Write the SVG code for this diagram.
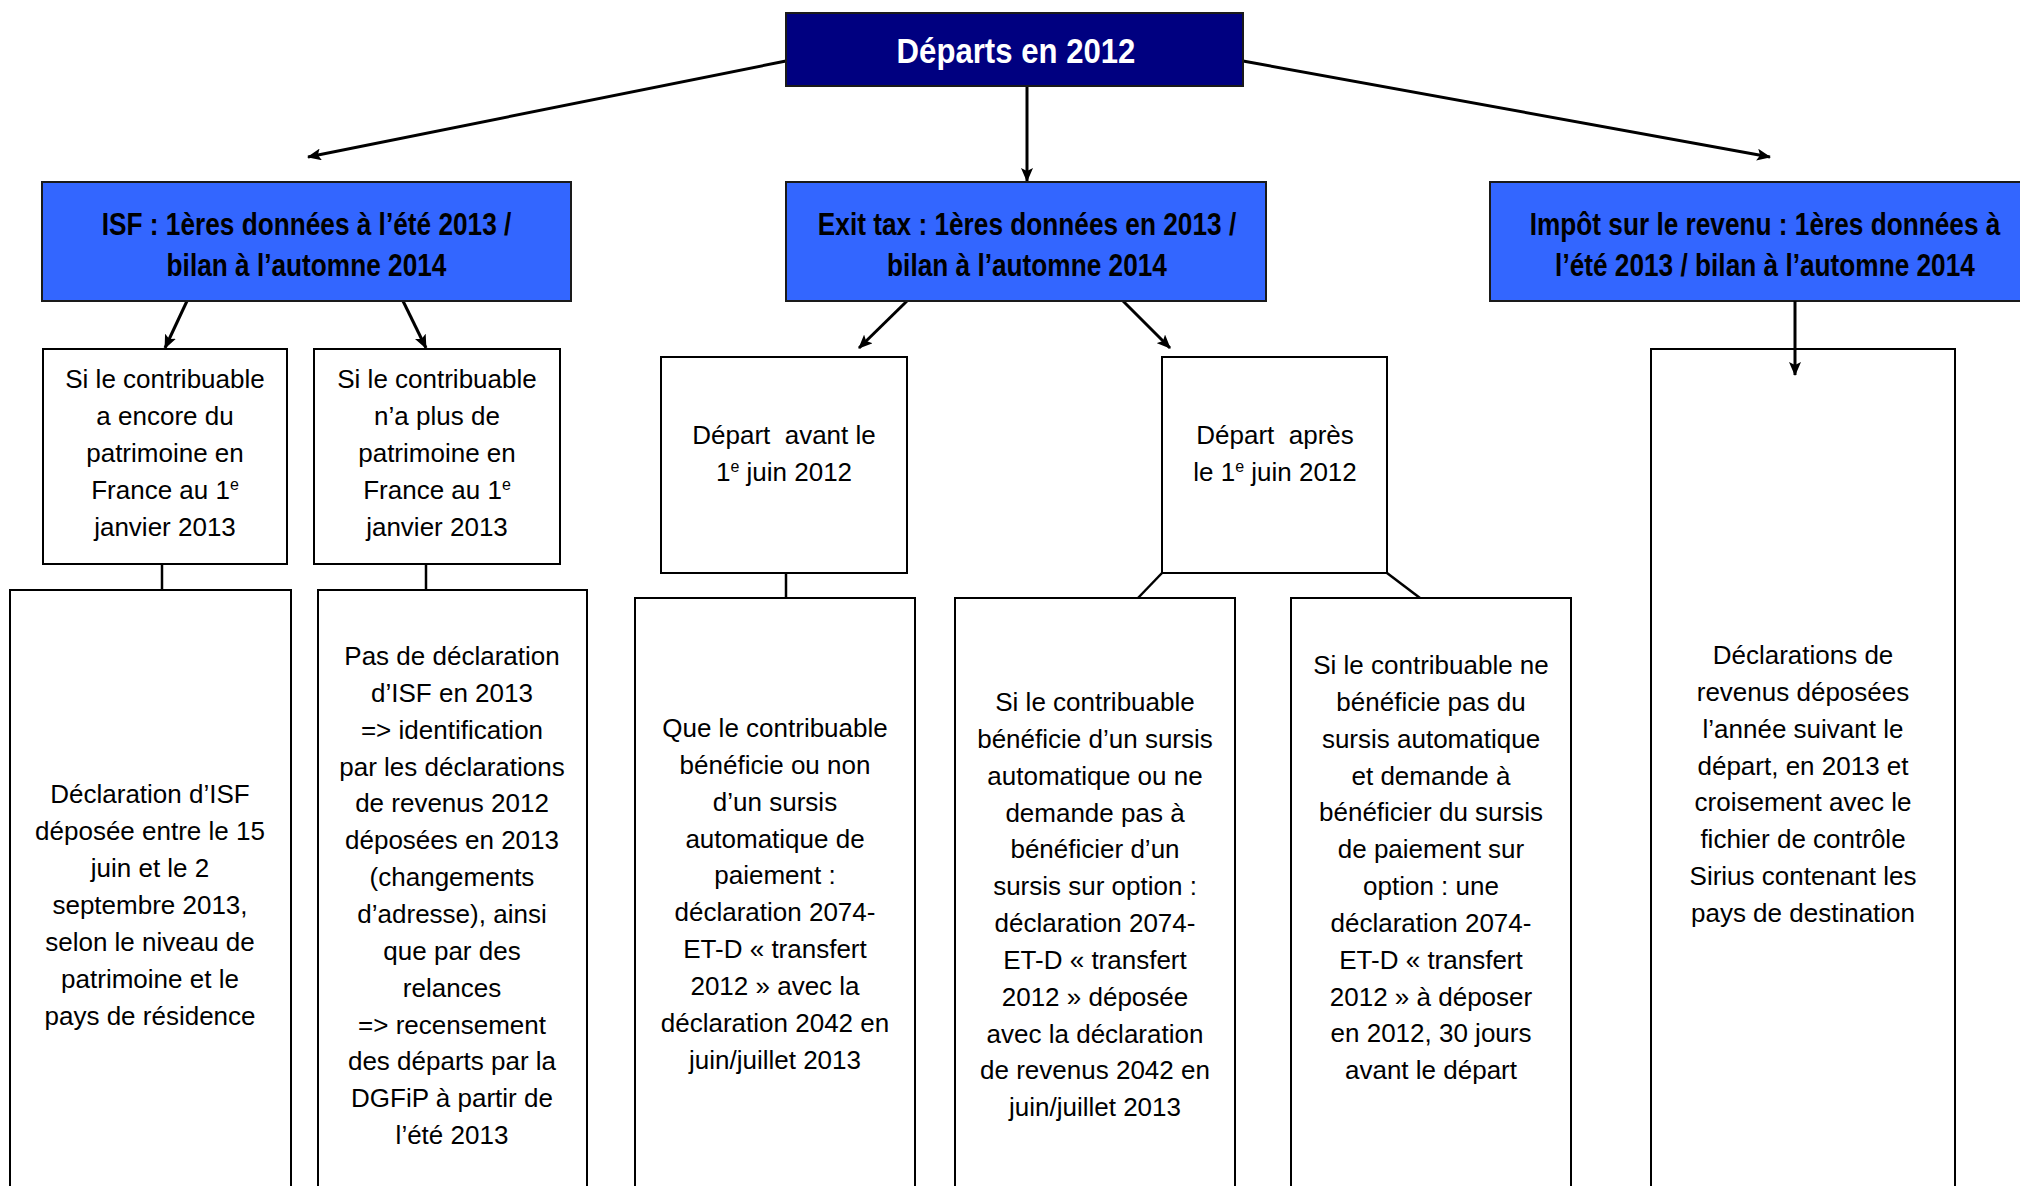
<svg xmlns="http://www.w3.org/2000/svg" width="2020" height="1186" viewBox="0 0 2020 1186">
<defs>
<style>
.t{font-family:"Liberation Sans",Arial,sans-serif;font-size:26px;fill:#000;text-anchor:middle}
.h{font-family:"Liberation Sans",Arial,sans-serif;font-weight:bold;font-size:30.5px;fill:#000;text-anchor:middle}
.ttl{font-family:"Liberation Sans",Arial,sans-serif;font-weight:bold;font-size:36px;fill:#fff;text-anchor:middle}
.box{fill:#fff;stroke:#000;stroke-width:2}
.blue{fill:#3366FF;stroke:#1a1a1a;stroke-width:2}
.navy{fill:#000080;stroke:#1a1a1a;stroke-width:2}
.con{stroke:#000;stroke-width:2.5;fill:none}
.arr{stroke:#000;stroke-width:3;fill:none;marker-end:url(#ah)}
.sup{font-size:16px}
.pre{white-space:pre}
</style>
<marker id="ah" markerUnits="userSpaceOnUse" viewBox="0 0 14 12" refX="13" refY="6" markerWidth="14" markerHeight="12" orient="auto">
<path d="M0,0 L14,6 L0,12 L3,6 z" fill="#000"/>
</marker>
</defs>

<g id="connectors">
<line class="arr" x1="786" y1="61" x2="308" y2="157"/>
<line class="arr" x1="1027" y1="86" x2="1027" y2="181"/>
<line class="arr" x1="1243" y1="61" x2="1770" y2="157"/>
<line class="arr" x1="187" y1="301" x2="165" y2="348"/>
<line class="arr" x1="403" y1="301" x2="426" y2="348"/>
<line class="arr" x1="907" y1="301" x2="859" y2="348"/>
<line class="arr" x1="1123" y1="301" x2="1170" y2="348"/>
<line class="con" x1="162" y1="564" x2="162" y2="590"/>
<line class="con" x1="426" y1="564" x2="426" y2="590"/>
<line class="con" x1="786" y1="573" x2="786" y2="598"/>
<line class="con" x1="1162" y1="573" x2="1138" y2="598"/>
<line class="con" x1="1387" y1="573" x2="1420" y2="598"/>
</g>

<g id="depart2012">
<rect class="navy" x="786" y="13" width="457" height="73"/>
<g transform="translate(1016,0) scale(0.865,1)"><text class="ttl" x="0" y="63">Départs en 2012</text></g>
</g>

<g id="isf">
<rect class="blue" x="42" y="182" width="529" height="119"/>
<g transform="translate(306.5,0) scale(0.86,1)">
<text class="h" x="0" y="235">ISF : 1ères données à l’été 2013 /</text>
<text class="h" x="0" y="276">bilan à l’automne 2014</text>
</g>
</g>

<g id="exittax">
<rect class="blue" x="786" y="182" width="480" height="119"/>
<g transform="translate(1027,0) scale(0.86,1)">
<text class="h" x="0" y="235">Exit tax : 1ères données en 2013 /</text>
<text class="h" x="0" y="276">bilan à l’automne 2014</text>
</g>
</g>

<g id="impot">
<rect class="blue" x="1490" y="182" width="550" height="119"/>
<g transform="translate(1765,0) scale(0.86,1)">
<text class="h" x="0" y="235">Impôt sur le revenu : 1ères données à</text>
<text class="h" x="0" y="276">l’été 2013 / bilan à l’automne 2014</text>
</g>
</g>

<g id="isf-encore">
<rect class="box" x="43" y="349" width="244" height="215"/>
<text class="t" x="165" y="388">Si le contribuable</text>
<text class="t" x="165" y="425">a encore du</text>
<text class="t" x="165" y="462">patrimoine en</text>
<text class="t" x="165" y="499">France au 1<tspan class="sup" dy="-9">e</tspan></text>
<text class="t" x="165" y="536">janvier 2013</text>
</g>

<g id="isf-plus">
<rect class="box" x="314" y="349" width="246" height="215"/>
<text class="t" x="437" y="388">Si le contribuable</text>
<text class="t" x="437" y="425">n’a plus de</text>
<text class="t" x="437" y="462">patrimoine en</text>
<text class="t" x="437" y="499">France au 1<tspan class="sup" dy="-9">e</tspan></text>
<text class="t" x="437" y="536">janvier 2013</text>
</g>

<g id="isf-declaration">
<rect class="box" x="10" y="590" width="281" height="620"/>
<text class="t" x="150" y="803">Déclaration d’ISF</text>
<text class="t" x="150" y="840">déposée entre le 15</text>
<text class="t" x="150" y="877">juin et le 2</text>
<text class="t" x="150" y="914">septembre 2013,</text>
<text class="t" x="150" y="951">selon le niveau de</text>
<text class="t" x="150" y="988">patrimoine et le</text>
<text class="t" x="150" y="1025">pays de résidence</text>
</g>

<g id="isf-pas">
<rect class="box" x="318" y="590" width="269" height="620"/>
<text class="t" x="452" y="665">Pas de déclaration</text>
<text class="t" x="452" y="702">d’ISF en 2013</text>
<text class="t" x="452" y="739">=&gt; identification</text>
<text class="t" x="452" y="776">par les déclarations</text>
<text class="t" x="452" y="812">de revenus 2012</text>
<text class="t" x="452" y="849">déposées en 2013</text>
<text class="t" x="452" y="886">(changements</text>
<text class="t" x="452" y="923">d’adresse), ainsi</text>
<text class="t" x="452" y="960">que par des</text>
<text class="t" x="452" y="997">relances</text>
<text class="t" x="452" y="1034">=&gt; recensement</text>
<text class="t" x="452" y="1070">des départs par la</text>
<text class="t" x="452" y="1107">DGFiP à partir de</text>
<text class="t" x="452" y="1144">l’été 2013</text>
</g>

<g id="avant">
<rect class="box" x="661" y="357" width="246" height="216"/>
<text class="t pre" x="784" y="444">Départ  avant le</text>
<text class="t" x="784" y="481">1<tspan class="sup" dy="-9">e</tspan><tspan dy="9"> juin 2012</tspan></text>
</g>

<g id="apres">
<rect class="box" x="1162" y="357" width="225" height="216"/>
<text class="t pre" x="1275" y="444">Départ  après</text>
<text class="t" x="1275" y="481">le 1<tspan class="sup" dy="-9">e</tspan><tspan dy="9"> juin 2012</tspan></text>
</g>

<g id="avant-detail">
<rect class="box" x="635" y="598" width="280" height="612"/>
<text class="t" x="775" y="737">Que le contribuable</text>
<text class="t" x="775" y="774">bénéficie ou non</text>
<text class="t" x="775" y="811">d’un sursis</text>
<text class="t" x="775" y="848">automatique de</text>
<text class="t" x="775" y="884">paiement :</text>
<text class="t" x="775" y="921">déclaration 2074-</text>
<text class="t" x="775" y="958">ET-D « transfert</text>
<text class="t" x="775" y="995">2012 » avec la</text>
<text class="t" x="775" y="1032">déclaration 2042 en</text>
<text class="t" x="775" y="1069">juin/juillet 2013</text>
</g>

<g id="apres-auto">
<rect class="box" x="955" y="598" width="280" height="612"/>
<text class="t" x="1095" y="711">Si le contribuable</text>
<text class="t" x="1095" y="748">bénéficie d’un sursis</text>
<text class="t" x="1095" y="785">automatique ou ne</text>
<text class="t" x="1095" y="822">demande pas à</text>
<text class="t" x="1095" y="858">bénéficier d’un</text>
<text class="t" x="1095" y="895">sursis sur option :</text>
<text class="t" x="1095" y="932">déclaration 2074-</text>
<text class="t" x="1095" y="969">ET-D « transfert</text>
<text class="t" x="1095" y="1006">2012 » déposée</text>
<text class="t" x="1095" y="1043">avec la déclaration</text>
<text class="t" x="1095" y="1079">de revenus 2042 en</text>
<text class="t" x="1095" y="1116">juin/juillet 2013</text>
</g>

<g id="apres-option">
<rect class="box" x="1291" y="598" width="280" height="612"/>
<text class="t" x="1431" y="674">Si le contribuable ne</text>
<text class="t" x="1431" y="711">bénéficie pas du</text>
<text class="t" x="1431" y="748">sursis automatique</text>
<text class="t" x="1431" y="785">et demande à</text>
<text class="t" x="1431" y="821">bénéficier du sursis</text>
<text class="t" x="1431" y="858">de paiement sur</text>
<text class="t" x="1431" y="895">option : une</text>
<text class="t" x="1431" y="932">déclaration 2074-</text>
<text class="t" x="1431" y="969">ET-D « transfert</text>
<text class="t" x="1431" y="1006">2012 » à déposer</text>
<text class="t" x="1431" y="1042">en 2012, 30 jours</text>
<text class="t" x="1431" y="1079">avant le départ</text>
</g>

<g id="revenus">
<rect class="box" x="1651" y="349" width="304" height="861"/>
<text class="t" x="1803" y="664">Déclarations de</text>
<text class="t" x="1803" y="701">revenus déposées</text>
<text class="t" x="1803" y="738">l’année suivant le</text>
<text class="t" x="1803" y="775">départ, en 2013 et</text>
<text class="t" x="1803" y="811">croisement avec le</text>
<text class="t" x="1803" y="848">fichier de contrôle</text>
<text class="t" x="1803" y="885">Sirius contenant les</text>
<text class="t" x="1803" y="922">pays de destination</text>
</g>

<g id="connectors-top">
<line class="arr" x1="1795" y1="301" x2="1795" y2="375"/>
</g>
</svg>
